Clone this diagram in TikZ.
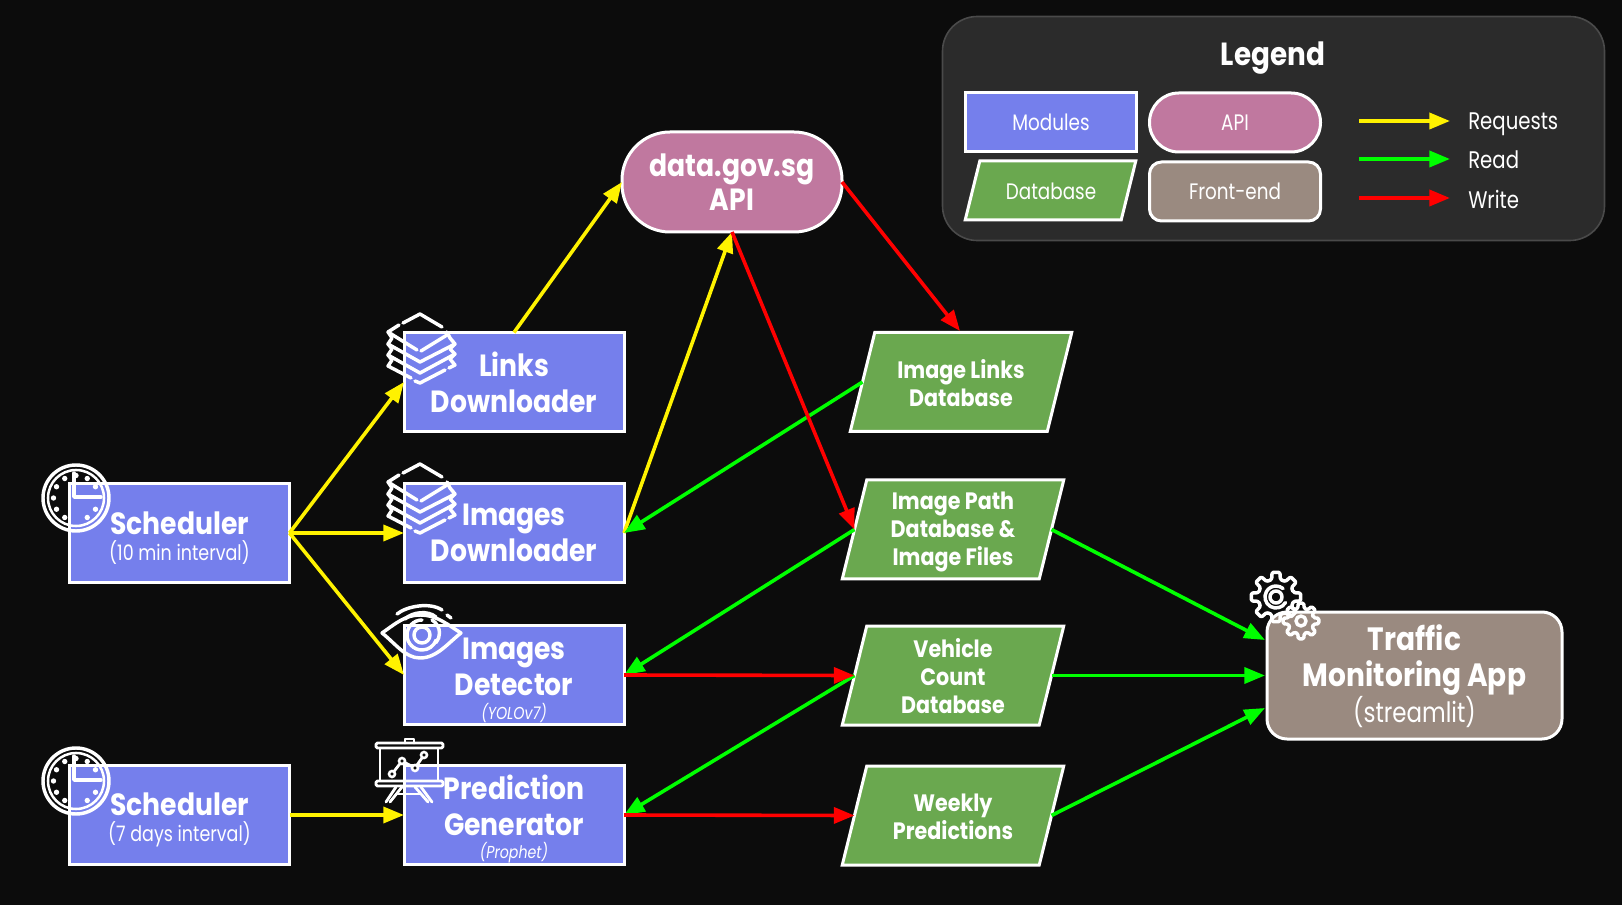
\documentclass[tikz,border=0pt]{standalone}
\usepackage{fontspec}
\usetikzlibrary{arrows.meta}
\setmainfont{Poppins}
\newfontfamily\hdfont[FakeStretch=0.87]{Poppins Bold}
\newfontfamily\rgfont[FakeStretch=0.82,ItalicFont={Poppins Italic}]{Poppins}
\def\upx{0.75pt}
\newcommand\szA{\hdfont\fontsize{23}{27}\selectfont}
\newcommand\szB{\hdfont\fontsize{17.8}{20.7}\selectfont}
\newcommand\szC{\rgfont\fontsize{16}{21}\selectfont}
\newcommand\szD{\rgfont\fontsize{13}{18}\selectfont\itshape}
\newcommand\szE{\rgfont\fontsize{16.8}{21}\selectfont}
\newcommand\topgap[1]{\rule{0pt}{#1}}
\definecolor{bgcol}{HTML}{0C0C0C}
\definecolor{modcol}{HTML}{757FEC}
\definecolor{apicol}{HTML}{C0789F}
\definecolor{dbcol}{HTML}{6AA84F}
\definecolor{appcol}{HTML}{9A8A80}
\definecolor{legcol}{HTML}{2B2B2B}
\definecolor{legline}{HTML}{4A4A4A}
\tikzset{
  basebox/.style={draw=white,line width=2.25pt,outer sep=0pt,inner sep=0pt,text=white,align=center},
  modbox/.style={basebox,rectangle,fill=modcol,minimum width=220*\upx,minimum height=99*\upx,font=\szA},
  apibox/.style={basebox,rectangle,rounded corners=36pt,fill=apicol,minimum width=220*\upx,minimum height=100*\upx,font=\szA},
  appbox/.style={basebox,rectangle,rounded corners=15pt,fill=appcol,minimum width=295*\upx,minimum height=127*\upx,font=\hdfont\fontsize{24.2}{27}\selectfont},
  dbshape/.style={basebox,rectangle,fill=dbcol,minimum width=197*\upx,minimum height=99*\upx,xslant=0.2475,transform shape},
  dbtext/.style={text=white,align=center,inner sep=0pt,font=\szB},
  legmod/.style={basebox,rectangle,fill=modcol,minimum width=171*\upx,minimum height=59*\upx,font=\szE},
  legapi/.style={basebox,rectangle,rounded corners=22pt,fill=apicol,minimum width=171*\upx,minimum height=59*\upx,font=\szE},
  legapp/.style={basebox,rectangle,rounded corners=9pt,fill=appcol,minimum width=171*\upx,minimum height=59*\upx,font=\szE},
  legdb/.style={basebox,rectangle,fill=dbcol,minimum width=156*\upx,minimum height=59*\upx,xslant=0.2475,transform shape},
  legtext/.style={text=white,inner sep=0pt,font=\szE},
  legkey/.style={text=white,inner sep=0pt,anchor=base west,font=\rgfont\fontsize{18}{21}\selectfont},
  flow/.style={line width=2.7pt,-{Triangle[length=15.5pt,width=12pt]}},
  reqline/.style={flow,draw=yellow},
  readline/.style={flow,draw=green},
  writeline/.style={flow,draw=red},
  icon/.style={draw=white,line width=2.6pt,line cap=round,line join=round},
  pics/clockicon/.style={code={
    \draw[draw=white,line width=2.6pt] (0,0) circle[radius=33];
    \draw[draw=white,line width=1.9pt] (0,0) circle[radius=28];
    \draw[icon] (-2,-25) -- (-2,-1) -- (25,-1);
    \foreach \a in {30,60,120,150,180,210,240,270,300,330}
      \fill[white] (\a:22.5) circle[radius=2.7];
  }},
  pics/stackicon/.style={code={
    \draw[icon] (13,25) -- (24,18);
    \draw[icon] (28,16) -- (45,7) -- (67,20);
    \draw[icon] (13,25) -- (42,43);
    \draw[icon] (46,44) -- (72,28);
    \draw[icon] (13,25) -- (17,31) -- (13,37) -- (45,55) -- (80,37) -- (75,31) -- (72,25);
    \draw[icon] (17,42) -- (13,37);
    \draw[icon] (17,42) -- (13,48) -- (45,66) -- (80,47) -- (75,42) -- (80,37);
    \draw[icon] (17,53) -- (13,48);
    \draw[icon] (17,53) -- (13,59) -- (36,71);
    \draw[icon] (40,74) -- (45,76) -- (70,63);
    \draw[icon] (74,61) -- (80,58) -- (75,52) -- (80,47);
  }},
  pics/eyeicon/.style={code={
    \draw[icon] (382,633) .. controls (395,624) and (405,615) .. (420,615) .. controls (437,615) and (448,625) .. (461,633)
      .. controls (448,643) and (437,658) .. (420,658) .. controls (405,658) and (395,643) .. (382,633) -- cycle;
    \draw[icon] (422,620) arc[start angle=-90,delta angle=-250,radius=15];
    \draw[icon] (422,635) circle[radius=8];
    \draw[icon] (397,614) .. controls (407,606) and (430,602) .. (442,610);
    \draw[icon] (405,619) .. controls (412,612) and (428,610) .. (436,617);
    \draw[icon] (447,615) -- (451,618);
    \draw[icon] (432,620) arc[start angle=-60,delta angle=100,radius=15];
  }},
  pics/boardicon/.style={code={
    \draw[icon,line width=2.1pt,rounded corners=1pt] (376,743) rectangle (443,748);
    \draw[icon,line width=2.1pt] (405,743) -- (405,739) -- (414,739) -- (414,743);
    \draw[icon,line width=2.1pt] (380,749) -- (380,780);
    \draw[icon,line width=2.1pt] (438,749) -- (438,780);
    \draw[icon,line width=2.1pt,rounded corners=1pt] (376,781) rectangle (443,786);
    \draw[icon,line width=2.1pt] (402,787) -- (390,802);
    \draw[icon,line width=2.1pt] (396,787) -- (386,802);
    \draw[icon,line width=2.1pt] (415,787) -- (428,802);
    \draw[icon,line width=2.1pt] (421,787) -- (432,802);
    \draw[icon,line width=2.1pt] (398,794) -- (420,794);
    \draw[icon,line width=2.1pt] (392,774) -- (402,761) -- (415,768) -- (424,755);
    \foreach \p in {(392,774),(402,761),(415,768),(424,755)}
      \filldraw[draw=white,fill=bgcol,line width=1.9pt] \p circle[radius=3];
  }},
  pics/gearicon/.style n args={3}{code={
    \draw[icon,rounded corners=1pt]
      (-14:#2) \foreach \a in {0,45,...,315}{ -- (\a-14:#2) -- (\a-9:#1) -- (\a+9:#1) -- (\a+14:#2) } -- cycle;
    \draw[icon] (0,0) circle[radius=#3];
  }},
}
\begin{document}
\begin{tikzpicture}[x=0.75pt,y=-0.75pt]
\useasboundingbox (0,0) rectangle (1622,905);
\fill[bgcol] (0,0) rectangle (1622,905);

% legend
\node[rectangle,rounded corners=26pt,fill=legcol,draw=legline,line width=1.2pt,minimum width=662*\upx,minimum height=224*\upx,outer sep=0pt] (legend) at (1273.5,128.5) {};
\node[text=white,inner sep=0pt,font=\hdfont\fontsize{24}{28}\selectfont] (legendtitle) at (1273,58) {Legend};
\node[legmod] (lmod) at (1051,122.5) {Modules};
\node[legapi] (lapi) at (1235,122.5) {API};
\node[legdb] (ldb) at (1050.5,190.5) {};
\node[legtext] (ldbt) at (1051,191) {Database};
\node[legapp] (lapp) at (1235,191.5) {Front-end};
\node[legkey] (lreq) at (1468,130) {Requests};
\node[legkey] (lread) at (1468,169) {Read};
\node[legkey] (lwrite) at (1468,209) {Write};
\coordinate (a1) at (1359,121); \coordinate (b1) at (1450,121);
\coordinate (a2) at (1359,159); \coordinate (b2) at (1450,159);
\coordinate (a3) at (1359,198); \coordinate (b3) at (1450,198);
\draw[reqline,line width=2.8pt] (a1) -- (b1);
\draw[readline,line width=2.8pt] (a2) -- (b2);
\draw[writeline,line width=2.8pt] (a3) -- (b3);

% modules
\node[modbox] (sched1) at (179.5,533) {\topgap{25pt}Scheduler\\[-7.5pt]{\szC (10 min interval)}};
\node[modbox] (links) at (514,382) {Links\\Downloader};
\node[modbox] (imgdl) at (514,533) {Images\\Downloader};
\node[modbox] (detect) at (514,675) {\topgap{24pt}Images\\Detector\\[-9pt]{\szD (YOLOv7)}};
\node[modbox] (sched2) at (179.5,815) {\topgap{25pt}Scheduler\\[-7.5pt]{\szC (7 days interval)}};
\node[modbox] (predict) at (514,815) {\topgap{24pt}Prediction\\Generator\\[-9.5pt]{\szD (Prophet)}};
\node[apibox] (api) at (732,182) {data.gov.sg\\[-2pt]API};
\node[appbox] (app) at (1414.5,675.5) {\topgap{21pt}Traffic\\Monitoring App\\{\rgfont\fontsize{21}{27}\selectfont (streamlit)}};

% databases
\node[dbshape] (dblinks) at (961,382) {};
\node[dbshape] (dbpath) at (953,529.5) {};
\node[dbshape] (dbcount) at (953,675.5) {};
\node[dbshape] (dbweek) at (953,815.5) {};
\node[dbtext] (dblinkst) at (961,383) {Image Links\\Database};
\node[dbtext] (dbpatht) at (953,532) {Image Path\\Database \&\\Image Files};
\node[dbtext] (dbcountt) at (953,676) {Vehicle\\Count\\Database};
\node[dbtext] (dbweekt) at (953,817) {Weekly\\Predictions};

\coordinate (linkstop) at (960,331);
\coordinate (appa) at (1265,640);
\coordinate (appb) at (1265,675.5);
\coordinate (appc) at (1265,708);

% requests
\draw[reqline] (sched1.east) -- (links.west);
\draw[reqline] (sched1.east) -- (imgdl.west);
\draw[reqline] (sched1.east) -- (detect.west);
\draw[reqline] (sched2.east) -- (predict.west);
\draw[reqline] (links.north) -- (api.west);
\draw[reqline] (imgdl.east) -- (api.south);
% reads
\draw[readline] (dblinks.west) -- (imgdl.east);
\draw[readline] (dbpath.west) -- (detect.east);
\draw[readline] (dbcount.west) -- (predict.east);
\draw[readline] (dbpath.east) -- (appa);
\draw[readline] (dbcount.east) -- (appb);
\draw[readline] (dbweek.east) -- (appc);
% writes
\draw[writeline] (api.east) -- (linkstop);
\draw[writeline] (api.south) -- (dbpath.west);
\draw[writeline] (detect.east) -- (dbcount.west);
\draw[writeline] (predict.east) -- (dbweek.west);

% icons
\pic (clockA) at (76,498) {clockicon};
\pic (clockB) at (76,781) {clockicon};
\pic (stackA) at (375,307) {stackicon};
\pic (stackB) at (375,457) {stackicon};
\pic (eye) at (0,0) {eyeicon};
\pic (board) at (0,0) {boardicon};
\pic (gearA) at (1276,597) {gearicon={25}{18}{6}};
\pic (gearB) at (1301,621) {gearicon={18}{13}{5}};
\draw[icon] (1276,597) ++(30:11) arc[start angle=30,delta angle=280,radius=11];
\end{tikzpicture}
\end{document}
